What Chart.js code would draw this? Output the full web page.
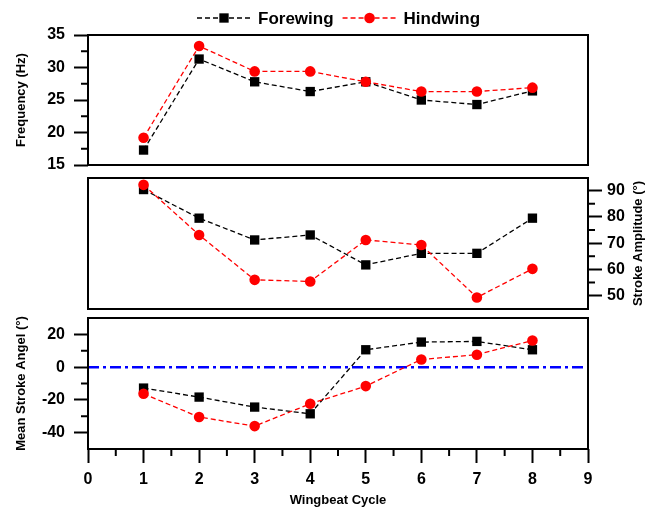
<!DOCTYPE html>
<html>
<head>
<meta charset="utf-8">
<script src="https://cdn.jsdelivr.net/npm/chart.js@4.4.1/dist/chart.umd.min.js"></script>
<style>
  html, body { margin: 0; padding: 0; background: #fff; }
  #wrap { position: relative; width: 645px; height: 508px; }
  #wrap canvas { position: absolute; left: 0; top: 0; }
</style>
</head>
<body>
<div id="wrap">
  <canvas id="freq" width="645" height="508"></canvas>
  <canvas id="amp" width="645" height="508"></canvas>
  <canvas id="angle" width="645" height="508"></canvas>
</div>
<script>
// values
const CYCLES = [1, 2, 3, 4, 5, 6, 7, 8];
const FREQ_FORE = [17.3, 31.3, 27.8, 26.3, 27.8, 25.0, 24.3, 26.4];
const FREQ_HIND = [19.2, 33.3, 29.4, 29.4, 27.8, 26.3, 26.3, 26.9];
const AMP_FORE = [90.4, 79.5, 71.2, 73.1, 61.7, 66.1, 66.1, 79.5];
const AMP_HIND = [92.2, 73.1, 56.0, 55.4, 71.2, 69.3, 49.3, 60.2];
const ANGLE_FORE = [-12.8, -18.3, -24.4, -28.5, 10.6, 15.3, 15.7, 10.6];
const ANGLE_HIND = [-16.3, -30.5, -36.0, -22.4, -11.6, 4.7, 7.6, 16.3];
const ZERO_X = [0, 9];
const ZERO_Y = [0, 0];

// tick labels
const X_TICKS = [0, 1, 2, 3, 4, 5, 6, 7, 8, 9];
const FREQ_TICKS = [15, 20, 25, 30, 35];
const AMP_TICKS = [50, 60, 70, 80, 90];
const ANGLE_TICKS = [-40, -20, 0, 20];

const FONT = "'Liberation Sans', Arial, sans-serif";
const BOX_L = 88, BOX_R = 57; // plot box edges (px from the left / right side)

function pts(ys, xs = CYCLES) {
  return xs.map((x, i) => ({ x, y: ys[i] }));
}

function series(label, ys, color, style, radius, order) {
  return {
    label,
    data: pts(ys),
    borderColor: color,
    backgroundColor: color,
    borderWidth: 1.3,
    borderDash: [5, 3],
    pointStyle: style,
    pointRadius: radius,
    pointHoverRadius: radius,
    pointBorderWidth: 0,
    order,
  };
}

function fixedTicks(values) {
  return s => { s.ticks = values.map(v => ({ value: v })); };
}

const tickFont = { family: FONT, size: 16, weight: 'bold' };
const titleFont = { family: FONT, size: 13, weight: 'bold' };
const majorGrid = {
  drawOnChartArea: false, drawTicks: true,
  tickLength: 14, tickWidth: 2, tickColor: '#000',
};

// frame round the plot area + short minor ticks between the labelled ones
const boxPlugin = {
  id: 'box',
  afterDraw(chart) {
    const { ctx, chartArea: a } = chart;
    ctx.save();
    ctx.strokeStyle = '#000';
    ctx.lineWidth = 2;
    ctx.strokeRect(a.left, a.top, a.right - a.left, a.bottom - a.top);
    Object.values(chart.scales).forEach(s => {
      if (!s.options.display) return;
      const t = s.ticks.map(k => k.value);
      for (let i = 0; i + 1 < t.length; i++) {
        const p = s.getPixelForValue((t[i] + t[i + 1]) / 2);
        ctx.beginPath();
        if (s.position === 'left') { ctx.moveTo(a.left, p); ctx.lineTo(a.left - 7, p); }
        else if (s.position === 'right') { ctx.moveTo(a.right, p); ctx.lineTo(a.right + 7, p); }
        else { ctx.moveTo(p, a.bottom); ctx.lineTo(p, a.bottom + 7); }
        ctx.stroke();
      }
    });
    ctx.restore();
  },
};

// rotated title for the right-hand axis (reads bottom to top)
const sideTitlePlugin = {
  id: 'sideTitle',
  afterDraw(chart, args, opts) {
    if (!opts.text) return;
    const { ctx, chartArea: a } = chart;
    ctx.save();
    ctx.translate(opts.x, (a.top + a.bottom) / 2);
    ctx.rotate(-Math.PI / 2);
    ctx.font = `bold 13px ${FONT}`;
    ctx.fillStyle = '#000';
    ctx.textAlign = 'center';
    ctx.textBaseline = 'middle';
    ctx.fillText(opts.text, 0, 0);
    ctx.restore();
  },
};

// legend with dashed line + marker, like Origin draws it
const lineLegendPlugin = {
  id: 'lineLegend',
  afterDraw(chart, args, opts) {
    if (!opts.show) return;
    const { ctx } = chart;
    let x = opts.x;
    const y = opts.y;
    ctx.save();
    ctx.font = `bold 17px ${FONT}`;
    ctx.textBaseline = 'middle';
    chart.data.datasets.forEach(ds => {
      ctx.strokeStyle = ds.borderColor;
      ctx.lineWidth = ds.borderWidth;
      ctx.setLineDash(ds.borderDash);
      ctx.beginPath();
      ctx.moveTo(x, y);
      ctx.lineTo(x + 53, y);
      ctx.stroke();
      ctx.setLineDash([]);
      ctx.fillStyle = ds.backgroundColor;
      Chart.helpers.drawPoint(ctx, { pointStyle: ds.pointStyle, rotation: 0, radius: ds.pointRadius, borderWidth: 0 }, x + 27, y);
      ctx.fillStyle = '#000';
      ctx.fillText(ds.label, x + 61, y + 1);
      x += 61 + ctx.measureText(ds.label).width + 9;
    });
    ctx.restore();
  },
};

function xScale(show) {
  return {
    type: 'linear', min: 0, max: 9, display: show,
    afterBuildTicks: fixedTicks(X_TICKS),
    afterFit: s => { if (show) s.height = 59; },
    grid: majorGrid,
    border: { display: false },
    ticks: { font: tickFont, color: '#000', padding: 7, maxRotation: 0, autoSkip: false },
    title: { display: show, text: 'Wingbeat Cycle', font: titleFont, color: '#000', padding: 0 },
  };
}

function yScale(pos, min, max, values, title) {
  return {
    type: 'linear', position: pos, min, max,
    afterBuildTicks: fixedTicks(values),
    afterFit: s => { s.width = pos === 'left' ? BOX_L : BOX_R; },
    grid: majorGrid,
    border: { display: false },
    ticks: { font: tickFont, color: '#000', padding: pos === 'left' ? 9 : 5, autoSkip: false },
    title: { display: !!title, text: title, font: titleFont, color: '#000', padding: { top: 14 } },
  };
}

function makeChart(id, datasets, scales, padding, plugOpts) {
  return new Chart(document.getElementById(id), {
    type: 'line',
    data: { datasets },
    options: {
      responsive: false,
      animation: false,
      events: [],
      layout: { padding },
      plugins: Object.assign({ legend: { display: false }, tooltip: { enabled: false } }, plugOpts),
      scales,
    },
    plugins: [boxPlugin, sideTitlePlugin, lineLegendPlugin],
  });
}

// panel 1 – flapping frequency
makeChart('freq', [
  series('Forewing', FREQ_FORE, '#000000', 'rect', 6.6, 2),
  series('Hindwing', FREQ_HIND, '#ff0000', 'circle', 5.3, 1),
], {
  x: xScale(false),
  y: yScale('left', 15, 35, FREQ_TICKS, 'Frequency (Hz)'),
}, { left: 0, right: BOX_R, top: 35, bottom: 343 },
{ lineLegend: { show: true, x: 197, y: 18 } });

// panel 2 – stroke amplitude, axis on the right
makeChart('amp', [
  series('Forewing', AMP_FORE, '#000000', 'rect', 6.6, 2),
  series('Hindwing', AMP_HIND, '#ff0000', 'circle', 5.3, 1),
], {
  x: xScale(false),
  y: yScale('right', 44.9, 94.8, AMP_TICKS, ''),
}, { left: BOX_L, right: 0, top: 178, bottom: 199 },
{ sideTitle: { text: 'Stroke Amplitude (°)', x: 638 } });

// panel 3 – mean stroke angle with the zero reference line
makeChart('angle', [
  series('Forewing', ANGLE_FORE, '#000000', 'rect', 6.6, 2),
  series('Hindwing', ANGLE_HIND, '#ff0000', 'circle', 5.3, 1),
  {
    label: 'zero',
    data: pts(ZERO_Y, ZERO_X),
    borderColor: '#0000ff',
    borderWidth: 2.5,
    borderDash: [11, 4, 3, 4],
    pointRadius: 0,
    order: 3,
  },
], {
  x: xScale(true),
  y: yScale('left', -50, 30, ANGLE_TICKS, 'Mean Stroke Angel (°)'),
}, { left: 0, right: BOX_R, top: 318, bottom: 0 }, {});
</script>
</body>
</html>
